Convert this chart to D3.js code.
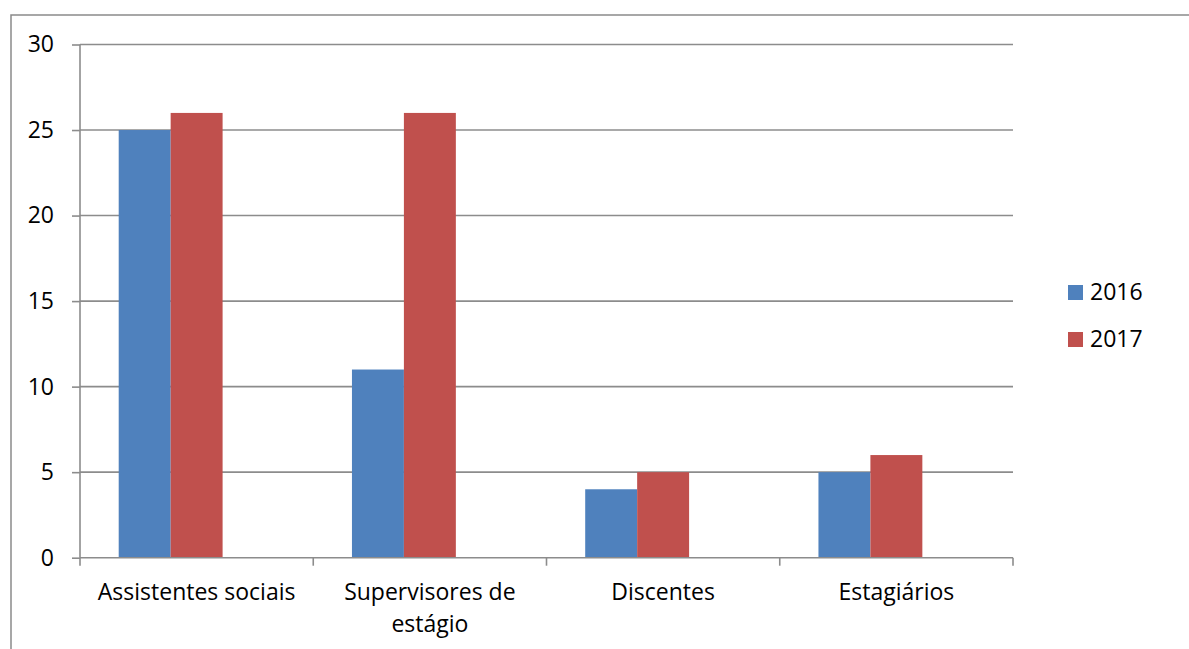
<!DOCTYPE html>
<html><head><meta charset="utf-8">
<script src="https://cdn.jsdelivr.net/npm/d3@7"></script>
<style>body{margin:0;background:#fff}svg{display:block}</style>
</head><body><svg id="c" width="1189" height="649"></svg>
<script>
const categories = ["Assistentes sociais", "Supervisores de estágio", "Discentes", "Estagiários"];
const series = ["2016", "2017"];
const values2016 = [25, 11, 4, 5];
const values2017 = [26, 26, 5, 6];
const yTicks = [0, 5, 10, 15, 20, 25, 30];
const colors = ["#4F81BD", "#C0504D"];
const seriesValues = [values2016, values2017];

const svg = d3.select("#c");
const font = "'Open Sans', 'Noto Sans', sans-serif";
const FS = 23;
const L = 80, R = 1013, T = 44.5, B = 557.7;

// outer frame
svg.append("path").attr("d", "M11,649 V15 H1189").attr("fill", "none").attr("stroke", "#8a8a8a").attr("stroke-width", 1.5);

const x = d3.scaleBand().domain(categories).range([L, R]).paddingInner(0).paddingOuter(0);
// Slots: 3 slots (third empty) as in original layout
const xs = d3.scaleBand().domain(["2016", "2017", "_"]).range([0, x.bandwidth()]).paddingOuter(0.745).paddingInner(0);
const y = d3.scaleLinear().domain([0, 30]).range([B, T]);

// gridlines
svg.append("g").selectAll("line").data(yTicks.filter(d => d > 0)).join("line")
  .attr("x1", L).attr("x2", R).attr("y1", d => y(d)).attr("y2", d => y(d))
  .attr("stroke", "#8c8c8c").attr("stroke-width", 1.6);

// bars
const g = svg.append("g");
series.forEach((s, i) => {
  g.selectAll(".b" + i).data(categories).join("rect")
    .attr("x", c => x(c) + xs(s))
    .attr("width", xs.bandwidth())
    .attr("y", (c, j) => y(seriesValues[i][j]))
    .attr("height", (c, j) => B - y(seriesValues[i][j]))
    .attr("fill", colors[i]);
});

// y axis
const ya = svg.append("g").attr("transform", `translate(${L},0)`)
  .call(d3.axisLeft(y).tickValues(yTicks).tickSize(8).tickPadding(18).tickFormat(d3.format("d")));
ya.select(".domain").attr("stroke", "#8c8c8c").attr("stroke-width", 1.6).attr("d", `M0,${T}V${B}`);
ya.selectAll(".tick line").attr("stroke", "#8c8c8c").attr("stroke-width", 1.6);
ya.selectAll("text").attr("font-family", font).attr("font-size", FS).attr("fill", "#000");

// x axis
const xa = svg.append("g").attr("transform", `translate(0,${B})`)
  .call(d3.axisBottom(x).tickSize(0).tickFormat(""));
xa.select(".domain").attr("stroke", "#8c8c8c").attr("stroke-width", 1.6).attr("d", `M${L},0H${R}`);
const bounds = categories.map(c => x(c)).concat([R]);
xa.selectAll(".bt").data(bounds).join("line").attr("class", "bt")
  .attr("x1", d => d).attr("x2", d => d).attr("y1", 0).attr("y2", 8)
  .attr("stroke", "#8c8c8c").attr("stroke-width", 1.6);

const labelLines = {"Supervisores de estágio": ["Supervisores de", "estágio"]};
categories.forEach(c => {
  const lines = labelLines[c] || [c];
  const t = svg.append("text").attr("x", x(c) + x.bandwidth() / 2).attr("y", 600)
    .attr("text-anchor", "middle").attr("font-family", font).attr("font-size", FS).attr("fill", "#000");
  lines.forEach((ln, k) => t.append("tspan").attr("x", x(c) + x.bandwidth() / 2).attr("dy", k ? 32 : 0).text(ln));
});

// legend
const lg = svg.append("g");
series.forEach((s, i) => {
  const yy = 285 + i * 47;
  lg.append("rect").attr("x", 1068).attr("y", yy).attr("width", 15).attr("height", 15).attr("fill", colors[i]);
  lg.append("text").attr("x", 1090).attr("y", yy + 15).attr("font-family", font).attr("font-size", FS).attr("fill", "#000").text(s);
});
</script></body></html>
